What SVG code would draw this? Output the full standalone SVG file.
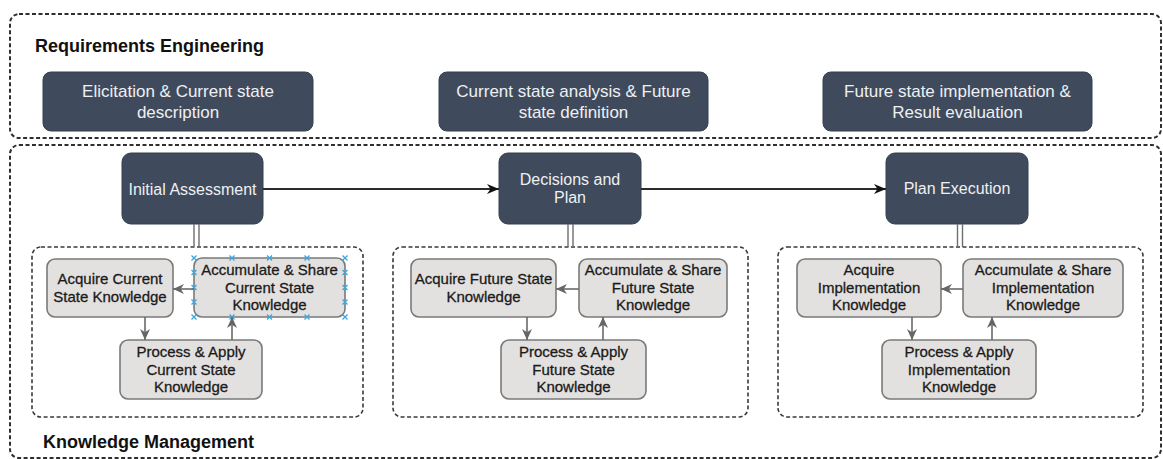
<svg xmlns="http://www.w3.org/2000/svg" width="1163" height="459" viewBox="0 0 1163 459">
  <style>
    .frame { fill: none; stroke: #2f2f2f; stroke-width: 2; stroke-dasharray: 4 2.5; }
    .group { fill: none; stroke: #3a3a3a; stroke-width: 1.6; stroke-dasharray: 4 2.5; }
    .title { font-family: "Liberation Sans", Arial, sans-serif; font-size: 18px; font-weight: bold; fill: #111; }
    .dark { fill: #3f4b5c; stroke: #34404f; stroke-width: 1; }
    .dark-text { font-family: "Liberation Sans", Arial, sans-serif; font-size: 16px; fill: #eef0f3; text-anchor: middle; }
    .phase-text { font-family: "Liberation Sans", Arial, sans-serif; font-size: 17px; fill: #eef0f3; text-anchor: middle; }
    .light { fill: #e3e1e0; stroke: #7a7a7a; stroke-width: 1.6; }
    .light-text { font-family: "Liberation Sans", Arial, sans-serif; font-size: 15px; fill: #1b1b1b; stroke: #1b1b1b; stroke-width: 0.3; text-anchor: middle; }
    .flow { stroke: #2b2b2b; stroke-width: 2; fill: none; }
    .cycle { stroke: #6a6a6a; stroke-width: 1.6; fill: none; }
    .link { stroke: #6e6e6e; stroke-width: 1.4; fill: none; }
    .handle { stroke: #3aa6dc; stroke-width: 1.3; fill: none; }
  </style>
  <defs>
    <marker id="headDark" markerUnits="userSpaceOnUse" viewBox="0 0 12 10" markerWidth="12" markerHeight="10" refX="12" refY="5" orient="auto">
      <path d="M0,0 L12,5 L0,10 L3.5,5 Z" fill="#111"/>
    </marker>
    <marker id="headGray" markerUnits="userSpaceOnUse" viewBox="0 0 11 10" markerWidth="11" markerHeight="10" refX="11" refY="5" orient="auto">
      <path d="M0,0 L11,5 L0,10 L3.3,5 Z" fill="#666"/>
    </marker>
    <path id="x" d="M-2.5,-2.5 L2.5,2.5 M-2.5,2.5 L2.5,-2.5"/>
  </defs>

  <rect width="1163" height="459" fill="#ffffff"/>

  <!-- Requirements Engineering lane -->
  <g id="requirements-engineering">
    <rect class="frame" x="10" y="14" width="1151" height="124" rx="9"/>
    <text class="title" x="35" y="52">Requirements Engineering</text>
  </g>

  <g id="phase-elicitation">
    <rect class="dark" x="43" y="72" width="270" height="59" rx="8"/>
    <text class="phase-text" x="178" y="97">Elicitation &amp; Current state</text>
    <text class="phase-text" x="178" y="118">description</text>
  </g>
  <g id="phase-analysis">
    <rect class="dark" x="439" y="72" width="269" height="59" rx="8"/>
    <text class="phase-text" x="573.5" y="97">Current state analysis &amp; Future</text>
    <text class="phase-text" x="573.5" y="118">state definition</text>
  </g>
  <g id="phase-implementation">
    <rect class="dark" x="823" y="72" width="269" height="59" rx="8"/>
    <text class="phase-text" x="957.5" y="97">Future state implementation &amp;</text>
    <text class="phase-text" x="957.5" y="118">Result evaluation</text>
  </g>

  <!-- Knowledge Management lane -->
  <g id="knowledge-management">
    <rect class="frame" x="10" y="145" width="1151" height="313" rx="9"/>
    <text class="title" x="43" y="448">Knowledge Management</text>
  </g>

  <!-- Stage nodes -->
  <g id="initial-assessment">
    <rect class="dark" x="122" y="153" width="141" height="71" rx="9"/>
    <text class="dark-text" x="192.5" y="195">Initial Assessment</text>
  </g>
  <g id="decisions-and-plan">
    <rect class="dark" x="499" y="153" width="142" height="71" rx="9"/>
    <text class="dark-text" x="570" y="185">Decisions and</text>
    <text class="dark-text" x="570" y="203">Plan</text>
  </g>
  <g id="plan-execution">
    <rect class="dark" x="886" y="153" width="142" height="71" rx="9"/>
    <text class="dark-text" x="957" y="194">Plan Execution</text>
  </g>

  <!-- Knowledge cycle groups -->
  <g id="current-state-cycle">
    <rect class="group" x="32" y="247" width="331" height="170" rx="9"/>
  </g>
  <g id="future-state-cycle">
    <rect class="group" x="393" y="247" width="355" height="170" rx="9"/>
  </g>
  <g id="implementation-cycle">
    <rect class="group" x="778" y="247" width="365" height="170" rx="9"/>
  </g>

  <!-- Current state knowledge -->
  <g id="acquire-current">
    <rect class="light" x="47" y="259" width="126" height="58" rx="8"/>
    <text class="light-text" x="110" y="284">Acquire Current</text>
    <text class="light-text" x="110" y="302">State Knowledge</text>
  </g>
  <g id="accumulate-current">
    <rect class="light" x="194" y="258" width="151" height="59" rx="8"/>
    <text class="light-text" x="269.5" y="275">Accumulate &amp; Share</text>
    <text class="light-text" x="269.5" y="292.5">Current State</text>
    <text class="light-text" x="269.5" y="310">Knowledge</text>
    <g class="handle">
      <use href="#x" x="194" y="258"/><use href="#x" x="232" y="258"/><use href="#x" x="269.5" y="258"/><use href="#x" x="307" y="258"/><use href="#x" x="345" y="258"/>
      <use href="#x" x="194" y="317"/><use href="#x" x="232" y="317"/><use href="#x" x="269.5" y="317"/><use href="#x" x="307" y="317"/><use href="#x" x="345" y="317"/>
      <use href="#x" x="194" y="272.5"/><use href="#x" x="194" y="287.5"/><use href="#x" x="194" y="302"/>
      <use href="#x" x="345" y="272.5"/><use href="#x" x="345" y="287.5"/><use href="#x" x="345" y="302"/>
    </g>
  </g>
  <g id="process-current">
    <rect class="light" x="120" y="340" width="142" height="59" rx="8"/>
    <text class="light-text" x="191" y="357">Process &amp; Apply</text>
    <text class="light-text" x="191" y="374.5">Current State</text>
    <text class="light-text" x="191" y="392">Knowledge</text>
  </g>

  <!-- Future state knowledge -->
  <g id="acquire-future">
    <rect class="light" x="411" y="259" width="145" height="58" rx="8"/>
    <text class="light-text" x="483.5" y="284">Acquire Future State</text>
    <text class="light-text" x="483.5" y="302">Knowledge</text>
  </g>
  <g id="accumulate-future">
    <rect class="light" x="579" y="259" width="148" height="58" rx="8"/>
    <text class="light-text" x="653" y="275">Accumulate &amp; Share</text>
    <text class="light-text" x="653" y="292.5">Future State</text>
    <text class="light-text" x="653" y="310">Knowledge</text>
  </g>
  <g id="process-future">
    <rect class="light" x="501" y="340" width="145" height="59" rx="8"/>
    <text class="light-text" x="573.5" y="357">Process &amp; Apply</text>
    <text class="light-text" x="573.5" y="374.5">Future State</text>
    <text class="light-text" x="573.5" y="392">Knowledge</text>
  </g>

  <!-- Implementation knowledge -->
  <g id="acquire-implementation">
    <rect class="light" x="797" y="259" width="144" height="58" rx="8"/>
    <text class="light-text" x="869" y="275">Acquire</text>
    <text class="light-text" x="869" y="292.5">Implementation</text>
    <text class="light-text" x="869" y="310">Knowledge</text>
  </g>
  <g id="accumulate-implementation">
    <rect class="light" x="963" y="259" width="160" height="58" rx="8"/>
    <text class="light-text" x="1043" y="275">Accumulate &amp; Share</text>
    <text class="light-text" x="1043" y="292.5">Implementation</text>
    <text class="light-text" x="1043" y="310">Knowledge</text>
  </g>
  <g id="process-implementation">
    <rect class="light" x="882" y="340" width="154" height="59" rx="8"/>
    <text class="light-text" x="959" y="357">Process &amp; Apply</text>
    <text class="light-text" x="959" y="374.5">Implementation</text>
    <text class="light-text" x="959" y="392">Knowledge</text>
  </g>

  <!-- Connectors -->
  <g id="connectors">
    <line class="flow" x1="263" y1="189" x2="499" y2="189" marker-end="url(#headDark)"/>
    <line class="flow" x1="641" y1="189" x2="886" y2="189" marker-end="url(#headDark)"/>

    <!-- stage to cycle links (double line) -->
    <path class="link" d="M194,224 V247 M199,224 V247"/>
    <path class="link" d="M568,224 V247 M573,224 V247"/>
    <path class="link" d="M957.5,224 V247 M962.5,224 V247"/>

    <!-- current state cycle -->
    <line class="cycle" x1="194" y1="289" x2="173" y2="289" marker-end="url(#headGray)"/>
    <line class="cycle" x1="145" y1="317" x2="145" y2="340" marker-end="url(#headGray)"/>
    <line class="cycle" x1="232" y1="340" x2="232" y2="317" marker-end="url(#headGray)"/>

    <!-- future state cycle -->
    <line class="cycle" x1="579" y1="289" x2="556" y2="289" marker-end="url(#headGray)"/>
    <line class="cycle" x1="527" y1="317" x2="527" y2="340" marker-end="url(#headGray)"/>
    <line class="cycle" x1="603" y1="340" x2="603" y2="317" marker-end="url(#headGray)"/>

    <!-- implementation cycle -->
    <line class="cycle" x1="963" y1="289" x2="941" y2="289" marker-end="url(#headGray)"/>
    <line class="cycle" x1="912" y1="317" x2="912" y2="340" marker-end="url(#headGray)"/>
    <line class="cycle" x1="992" y1="340" x2="992" y2="317" marker-end="url(#headGray)"/>
  </g>
</svg>
